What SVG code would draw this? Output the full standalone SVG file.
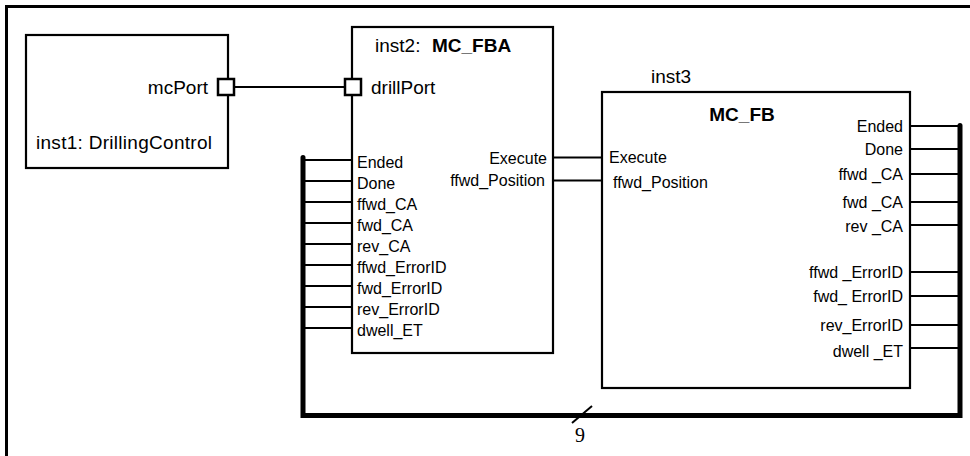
<svg xmlns="http://www.w3.org/2000/svg" width="970" height="456" viewBox="0 0 970 456">
<style>
text{font-family:"Liberation Sans",Arial,sans-serif;fill:#000}
.t19{font-size:19px}
.t16{font-size:16px}
.b{font-weight:bold}
.box{fill:#fff;stroke:#000;stroke-width:2.2}
.port{fill:#fff;stroke:#000;stroke-width:2.5}
.w{stroke:#000;stroke-width:2;fill:none}
.bus{stroke:#000;stroke-width:5;fill:none;stroke-linecap:round;stroke-linejoin:miter}
.end{text-anchor:end}
</style>
<rect width="970" height="456" fill="#fff"/>
<path d="M6.5,470 V6.5 H980" fill="none" stroke="#000" stroke-width="3"/>
<g id="connectors">
<line class="w" x1="234" y1="87" x2="345" y2="87"/>
<line class="w" x1="553" y1="157.5" x2="602" y2="157.5"/>
<line class="w" x1="553" y1="180.5" x2="602" y2="180.5"/>
<g class="w">
<line x1="303" y1="160" x2="352" y2="160"/>
<line x1="303" y1="181" x2="352" y2="181"/>
<line x1="303" y1="202" x2="352" y2="202"/>
<line x1="303" y1="223" x2="352" y2="223"/>
<line x1="303" y1="244" x2="352" y2="244"/>
<line x1="303" y1="265" x2="352" y2="265"/>
<line x1="303" y1="286" x2="352" y2="286"/>
<line x1="303" y1="307" x2="352" y2="307"/>
<line x1="303" y1="328" x2="352" y2="328"/>
<line x1="910" y1="126" x2="960" y2="126"/>
<line x1="910" y1="149" x2="960" y2="149"/>
<line x1="910" y1="174" x2="960" y2="174"/>
<line x1="910" y1="202" x2="960" y2="202"/>
<line x1="910" y1="225" x2="960" y2="225"/>
<line x1="910" y1="272" x2="960" y2="272"/>
<line x1="910" y1="296" x2="960" y2="296"/>
<line x1="910" y1="325" x2="960" y2="325"/>
<line x1="910" y1="348" x2="960" y2="348"/>
</g>
<path class="bus" d="M303,157.5 V415.5 H960 V125.5"/>
<line x1="572" y1="423" x2="592" y2="406" stroke="#000" stroke-width="2"/>
<text x="580" y="442" text-anchor="middle" style="font-family:'Liberation Serif','Times New Roman',serif;font-size:20px">9</text>
</g>
<g id="inst1">
<rect class="box" x="26" y="35" width="202" height="133"/>
<rect class="port" x="218" y="79" width="16" height="16"/>
<text class="t19 end" x="208" y="94">mcPort</text>
<text class="t19" x="36" y="149" textLength="176">inst1: DrillingControl</text>
</g>
<g id="inst2">
<rect class="box" x="352" y="27" width="201" height="326"/>
<rect class="port" x="345" y="79" width="16" height="16"/>
<text class="t19" x="375" y="52">inst2: <tspan class="b" x="432">MC_FBA</tspan></text>
<text class="t19" x="371" y="94">drillPort</text>
<g class="t16">
<text x="357" y="168">Ended</text>
<text x="357" y="189">Done</text>
<text x="357" y="210">ffwd_CA</text>
<text x="357" y="231">fwd_CA</text>
<text x="357" y="252">rev_CA</text>
<text x="357" y="273">ffwd_ErrorID</text>
<text x="357" y="294">fwd_ErrorID</text>
<text x="357" y="315">rev_ErrorID</text>
<text x="357" y="336">dwell_ET</text>
<text class="end" x="547" y="164">Execute</text>
<text class="end" x="545" y="186">ffwd_Position</text>
</g>
</g>
<g id="inst3">
<rect class="box" x="602" y="92" width="308" height="296"/>
<text class="t19" x="651" y="83">inst3</text>
<text class="t19 b" x="742" y="121" text-anchor="middle">MC_FB</text>
<g class="t16">
<text x="609" y="163">Execute</text>
<text x="613" y="188">ffwd_Position</text>
<text class="end" x="903" y="132">Ended</text>
<text class="end" x="903" y="155">Done</text>
<text class="end" x="903" y="180">ffwd _CA</text>
<text class="end" x="903" y="208">fwd _CA</text>
<text class="end" x="903" y="232">rev _CA</text>
<text class="end" x="903" y="278">ffwd _ErrorID</text>
<text class="end" x="903" y="302">fwd_ ErrorID</text>
<text class="end" x="903" y="331">rev_ErrorID</text>
<text class="end" x="903" y="357">dwell _ET</text>
</g>
</g>
</svg>
